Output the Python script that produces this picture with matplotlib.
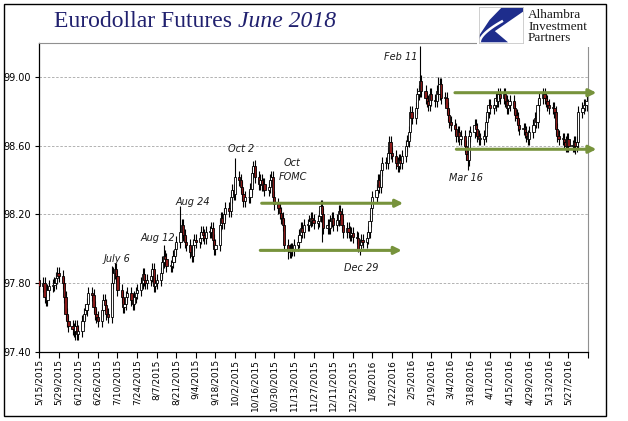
import numpy as np
import pandas as pd
import matplotlib
matplotlib.use("Agg")
import matplotlib.pyplot as plt
import matplotlib.dates as mdates
from matplotlib.patches import Rectangle, Polygon

# daily closes, one row per week (Mon..Fri), first value is Fri 5/15/2015
first_open = 97.82
closes = [
    97.78,
    97.80, 97.72, 97.70, 97.76, 97.78,
    97.79, 97.80, 97.83, 97.86, 97.84,
    97.80, 97.72, 97.62, 97.58, 97.55,
    97.53, 97.52, 97.55, 97.50, 97.52,
    97.58, 97.62, 97.64, 97.68, 97.74,
    97.73, 97.66, 97.62, 97.60, 97.58,
    97.64, 97.70, 97.67, 97.62, 97.60,
    97.80, 97.86, 97.88, 97.84, 97.76,
    97.72, 97.66, 97.68, 97.72, 97.74,
    97.70, 97.68, 97.72, 97.74, 97.76,
    97.80, 97.85, 97.82, 97.80, 97.82,
    97.84, 97.88, 97.78, 97.80, 97.82,
    97.86, 97.92, 97.96, 97.94, 97.90,
    97.90, 97.92, 97.96, 98.00, 98.04,
    98.10, 98.14, 98.08, 98.04, 98.02,
    97.98, 97.96, 98.02, 98.05, 98.04,
    98.06, 98.10, 98.08, 98.06, 98.10,
    98.10, 98.12, 98.05, 98.00, 98.02,
    98.14, 98.18, 98.15, 98.20, 98.24,
    98.22, 98.30, 98.34, 98.32, 98.42,
    98.40, 98.36, 98.32, 98.28, 98.30,
    98.30, 98.35, 98.44, 98.48, 98.42,
    98.38, 98.40, 98.37, 98.38, 98.34,
    98.36, 98.40, 98.42, 98.30, 98.26,
    98.24, 98.21, 98.18, 98.14, 98.02,
    97.99, 97.98, 98.00, 97.99, 98.02,
    98.04, 98.08, 98.12, 98.10, 98.14,
    98.14, 98.16, 98.18, 98.17, 98.15,
    98.16, 98.19, 98.25, 98.20, 98.12,
    98.14, 98.12, 98.16, 98.18, 98.14,
    98.17, 98.22, 98.20, 98.14, 98.10,
    98.12, 98.10, 98.08, 98.09, 98.07,
    98.06, 98.00, 98.02, 98.05, 98.04,
    98.06, 98.10, 98.16, 98.24, 98.30,
    98.34, 98.40, 98.36, 98.46, 98.50,
    98.50, 98.56, 98.62, 98.56, 98.54,
    98.50, 98.48, 98.52, 98.50, 98.54,
    98.60, 98.63, 98.68, 98.80, 98.76,
    98.82, 98.90, 98.92, 98.98, 98.92,
    98.88, 98.86, 98.84, 98.90, 98.87,
    98.86, 98.92, 98.90, 98.96, 98.88,
    98.88, 98.82, 98.78, 98.74, 98.72,
    98.70, 98.66, 98.68, 98.64, 98.66,
    98.60, 98.55, 98.52, 98.66, 98.68,
    98.72, 98.70, 98.66, 98.64, 98.64,
    98.66, 98.74, 98.80, 98.84, 98.82,
    98.84, 98.88, 98.86, 98.90, 98.88,
    98.90, 98.86, 98.82, 98.84, 98.86,
    98.82, 98.78, 98.76, 98.72, 98.70,
    98.70, 98.68, 98.66, 98.64, 98.68,
    98.72, 98.76, 98.74, 98.84, 98.88,
    98.90, 98.88, 98.86, 98.84, 98.82,
    98.82, 98.80, 98.70, 98.66, 98.64,
    98.64, 98.62, 98.60, 98.64, 98.60,
    98.60, 98.62, 98.60, 98.62, 98.80,
    98.82, 98.84, 98.84, 98.86,
]
wick = 0.035
spike_highs = {"2015-07-06": 97.90, "2015-08-12": 98.02, "2015-08-24": 98.25,
               "2015-10-02": 98.53, "2015-10-15": 98.51, "2016-02-11": 99.18,
               "2016-02-24": 99.00}
spike_lows = {"2015-06-10": 97.47, "2015-11-09": 97.94, "2015-12-03": 98.04,
              "2015-12-29": 97.98, "2016-03-16": 98.46, "2016-06-01": 98.55}

notes = ["July 6", "Aug 12", "Aug 24", "Oct 2", "Oct\nFOMC", "Dec 29", "Feb 11", "Mar 16"]
note_dates = ["2015-07-10", "2015-08-08", "2015-09-02", "2015-10-06", "2015-11-12",
              "2015-12-31", "2016-01-28", "2016-03-15"]
note_vals = [97.94, 98.06, 98.275, 98.58, 98.46, 97.89, 99.12, 98.415]

band_levels = [98.265, 97.99, 98.91, 98.58]
band_start = ["2015-10-21", "2015-10-20", "2016-03-07", "2016-03-08"]
band_end = ["2016-01-30", "2016-01-29", "2016-06-16", "2016-06-16"]

y_ticks = [97.40, 97.80, 98.20, 98.60, 99.00]

dates = pd.bdate_range("2015-05-15", "2016-06-09")
n = min(len(dates), len(closes))
dates = dates[:n]
closes = np.array(closes[:n])
opens = np.concatenate([[first_open], closes[:-1]])
highs = np.maximum(opens, closes) + wick
lows = np.minimum(opens, closes) - wick
for i, d in enumerate(dates):
    key = d.strftime("%Y-%m-%d")
    if key in spike_highs:
        highs[i] = spike_highs[key]
    if key in spike_lows:
        lows[i] = spike_lows[key]

W, H = 628, 421
fig = plt.figure(figsize=(W / 100, H / 100), dpi=100)
ax = fig.add_axes([39 / W, 1 - 351.5 / H, 549 / W, 308.5 / H])

xs = mdates.date2num(dates.to_pydatetime())
ax.vlines(xs, lows, highs, color="black", lw=0.8, zorder=2)
bw = 1.6
for x, o, c in zip(xs, opens, closes):
    lo = min(o, c)
    h = max(abs(c - o), 0.004)
    fc = "white" if c >= o else "#8B1A1A"
    ax.add_patch(Rectangle((x - bw / 2, lo), bw, h, facecolor=fc,
                           edgecolor="black", lw=0.6, zorder=3))

for lvl, s, e in zip(band_levels, band_start, band_end):
    ax.annotate("", xy=(mdates.datestr2num(e), lvl), xytext=(mdates.datestr2num(s), lvl),
                arrowprops=dict(arrowstyle="-|>", color="#77933C", lw=2.2,
                                mutation_scale=11, shrinkA=0, shrinkB=0),
                annotation_clip=False, zorder=4)

for t, d, v in zip(notes, note_dates, note_vals):
    ax.text(mdates.datestr2num(d), v, t, ha="center", va="center", style="italic",
            fontsize=7, color="#1a1a1a", linespacing=1.5, zorder=5)

ax.set_xlim(mdates.datestr2num("2015-05-15"), mdates.datestr2num("2016-06-10"))
ax.set_ylim(97.40, 99.20)
ax.set_yticks(y_ticks)
ax.set_yticklabels(["%.2f" % v for v in y_ticks])
tick_dates = pd.date_range("2015-05-15", "2016-06-10", freq="14D")
ax.set_xticks(mdates.date2num(tick_dates.to_pydatetime()))
labels = ["%d/%d/%d" % (d.month, d.day, d.year) for d in tick_dates]
labels[-1] = ""
ax.set_xticklabels(labels, rotation=90)
ax.tick_params(axis="x", direction="out", length=4, pad=1.5, labelsize=6.5, width=0.8)
ax.tick_params(axis="y", direction="out", length=3, pad=3, labelsize=7, width=0.8)
ax.grid(axis="y", color="#A6A6A6", lw=0.6, linestyle=(0, (3, 2)))
ax.set_axisbelow(True)
for s in ["left", "bottom"]:
    ax.spines[s].set_color("black")
    ax.spines[s].set_linewidth(0.9)
for s in ["top", "right"]:
    ax.spines[s].set_color("#909090")
    ax.spines[s].set_linewidth(0.8)

# outer frame
fig.patches.append(Rectangle((4 / W, 1 - 416 / H), 602 / W, 412 / H, transform=fig.transFigure,
                             fill=False, edgecolor="black", lw=1.0, zorder=1))
# white area behind logo
fig.patches.append(Rectangle((477 / W, 1 - 46.5 / H), 124 / W, 41 / H, transform=fig.transFigure,
                             facecolor="white", edgecolor="none", zorder=2))

# title
fig.text(232 / W, 1 - 27 / H, "Eurodollar Futures", ha="right", va="baseline",
         family="Liberation Serif", fontsize=17, color="#20206E")
fig.text(238 / W, 1 - 27 / H, "June 2018", ha="left", va="baseline", style="italic",
         family="Liberation Serif", fontsize=17, color="#20206E")

# logo
lax = fig.add_axes([479 / W, 1 - 43 / H, 44 / W, 36 / H])
lax.set_zorder(3)
lax.set_xlim(0, 1)
lax.set_ylim(0, 1)
lax.set_xticks([])
lax.set_yticks([])
for s in lax.spines.values():
    s.set_color("#C8C8C8")
    s.set_linewidth(0.6)
lax.add_patch(Polygon([(0.51, 0.98), (1.0, 0.98), (1.0, 0.87), (0.36, 0.33), (0.66, 0.02),
                       (0.0, 0.02), (0.0, 0.2), (0.24, 0.64)], closed=True,
                      facecolor="#1E2D8C", edgecolor="none"))
tt = np.linspace(0, 1, 30)
lax.plot(0.02 + 0.5 * tt ** 1.6, 0.05 + 0.55 * tt, color="white", lw=1.8)
fig.text(528 / W, 1 - 9 / H, "Alhambra\nInvestment\nPartners", ha="left", va="top",
         family="Liberation Serif", fontsize=9.5, color="#1a1a1a", linespacing=0.95, zorder=4)

fig.savefig("out.png", dpi=100)
